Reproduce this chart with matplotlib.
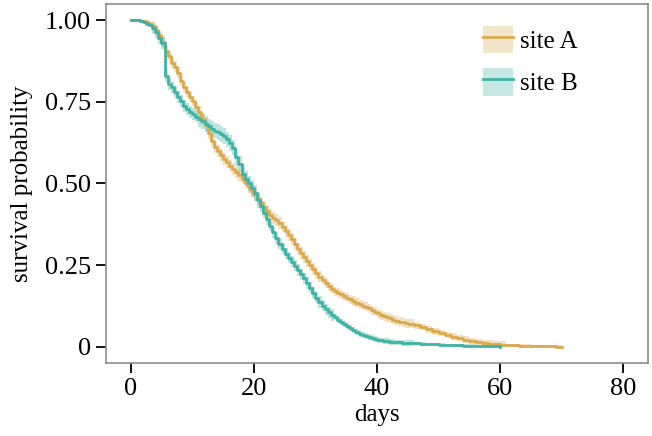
import matplotlib
matplotlib.use("Agg")
import matplotlib.pyplot as plt
from matplotlib.patches import Patch
from matplotlib.lines import Line2D
import numpy as np

# ---- data ----
# site A: half-day readings up to day 45, then daily readings
days_a = [i / 2 for i in range(0, 91)] + list(range(46, 71))
surv_a = [1.000, 1.000, 1.000, 0.999, 0.997, 0.994, 0.990, 0.982, 0.970, 0.955,
          0.935, 0.905, 0.890, 0.870, 0.858, 0.840, 0.815, 0.795, 0.780, 0.765,
          0.752, 0.735, 0.718, 0.698, 0.680, 0.655, 0.630, 0.612, 0.600, 0.587,
          0.575, 0.565, 0.555, 0.545, 0.535, 0.525, 0.515, 0.503, 0.490, 0.478,
          0.465, 0.452, 0.440, 0.428, 0.415, 0.405, 0.395, 0.388, 0.380, 0.368,
          0.355, 0.343, 0.330, 0.315, 0.300, 0.288, 0.275, 0.262, 0.250, 0.237,
          0.225, 0.215, 0.205, 0.195, 0.185, 0.177, 0.170, 0.165, 0.160, 0.155,
          0.150, 0.145, 0.140, 0.135, 0.130, 0.126, 0.122, 0.117, 0.112, 0.107,
          0.102, 0.097, 0.093, 0.090, 0.087, 0.083, 0.080, 0.077, 0.075, 0.072,
          0.070,
          0.065, 0.060, 0.053, 0.047, 0.042, 0.036, 0.031, 0.026, 0.022, 0.018,
          0.014, 0.011, 0.009, 0.007, 0.006, 0.005, 0.004, 0.003, 0.003, 0.002,
          0.002, 0.001, 0.001, 0.000, 0.000]
# confidence band half-width: (from day, half-width)
ci_a_breaks = [(0, 0.004), (3.5, 0.016), (11, 0.018), (31, 0.014), (46, 0.010), (61, 0.004)]

# site B: half-day readings up to day 41, then daily readings
days_b = [i / 2 for i in range(0, 83)] + list(range(42, 61))
surv_b = [1.000, 1.000, 1.000, 0.998, 0.995, 0.990, 0.985, 0.975, 0.965, 0.945,
          0.930, 0.830, 0.805, 0.795, 0.780, 0.765, 0.752, 0.738, 0.728, 0.720,
          0.713, 0.705, 0.698, 0.690, 0.682, 0.675, 0.668, 0.662, 0.658, 0.652,
          0.645, 0.635, 0.625, 0.610, 0.580, 0.560, 0.530, 0.515, 0.500, 0.487,
          0.470, 0.450, 0.430, 0.410, 0.390, 0.370, 0.350, 0.332, 0.315, 0.300,
          0.285, 0.272, 0.260, 0.248, 0.235, 0.222, 0.210, 0.195, 0.180, 0.165,
          0.150, 0.137, 0.125, 0.115, 0.105, 0.097, 0.090, 0.082, 0.075, 0.069,
          0.063, 0.056, 0.050, 0.045, 0.040, 0.036, 0.032, 0.029, 0.026, 0.023,
          0.021, 0.019, 0.017,
          0.015, 0.013, 0.012, 0.011, 0.010, 0.009, 0.008, 0.007, 0.006, 0.005,
          0.004, 0.004, 0.003, 0.003, 0.002, 0.002, 0.001, 0.001, 0.000]
ci_b_breaks = [(0, 0.004), (3.5, 0.018), (11, 0.024), (21, 0.017), (33, 0.009), (46, 0.004)]

series_names = ["site A", "site B"]
colors = ["#DAA94F", "#3FB3A4"]

x_ticks = [0, 20, 40, 60, 80]
y_ticks = [0, 0.25, 0.5, 0.75, 1.0]
y_tick_labels = ["0", "0.25", "0.50", "0.75", "1.00"]


def band(days, breaks):
    out = []
    for t in days:
        hw = breaks[0][1]
        for start, w in breaks:
            if t >= start:
                hw = w
        out.append(hw)
    return np.array(out)


# ---- plot ----
plt.rcParams["font.family"] = ["Liberation Serif", "DejaVu Serif"]
FS_TICK = 19
FS_LAB = 18

fig = plt.figure(figsize=(6.52, 4.36), dpi=100)
ax = fig.add_axes([106 / 652, 1 - 363 / 436, (648 - 106) / 652, (363 - 4) / 436])

handles = []
for days, surv, brk, name, col in [(days_a, surv_a, ci_a_breaks, series_names[0], colors[0]),
                                    (days_b, surv_b, ci_b_breaks, series_names[1], colors[1])]:
    d = np.array(days, dtype=float)
    s = np.array(surv)
    c = band(days, brk)
    ax.fill_between(d, np.clip(s - c, 0, 1), np.clip(s + c, 0, 1), step="post",
                    color=col, alpha=0.35, linewidth=0)
    ax.step(d, s, where="post", color=col, linewidth=2.0)
    handles.append((Patch(facecolor=col, alpha=0.3, edgecolor="none"),
                    Line2D([], [], color=col, linewidth=2.0)))

ax.set_xlim(-4, 84)
ax.set_ylim(-0.05, 1.05)
ax.set_xticks(x_ticks)
ax.set_yticks(y_ticks)
ax.set_yticklabels(y_tick_labels)
ax.tick_params(axis="both", direction="out", length=7, width=1.3, color="black",
               labelsize=FS_TICK, pad=4, labelcolor="black")
for sp in ax.spines.values():
    sp.set_color("#8c8c8c")
    sp.set_linewidth(1.2)

ax.set_xlabel("days", fontsize=FS_LAB, labelpad=3)
ax.set_ylabel("survival probability", fontsize=FS_LAB, labelpad=8)

leg = ax.legend(handles, series_names, loc="upper left",
                bbox_to_anchor=(0.695, 0.94), frameon=False, fontsize=FS_LAB,
                handlelength=1.2, handleheight=1.3, labelspacing=0.62,
                handletextpad=0.3, borderpad=0, borderaxespad=0)

fig.savefig("out.png", dpi=100)
